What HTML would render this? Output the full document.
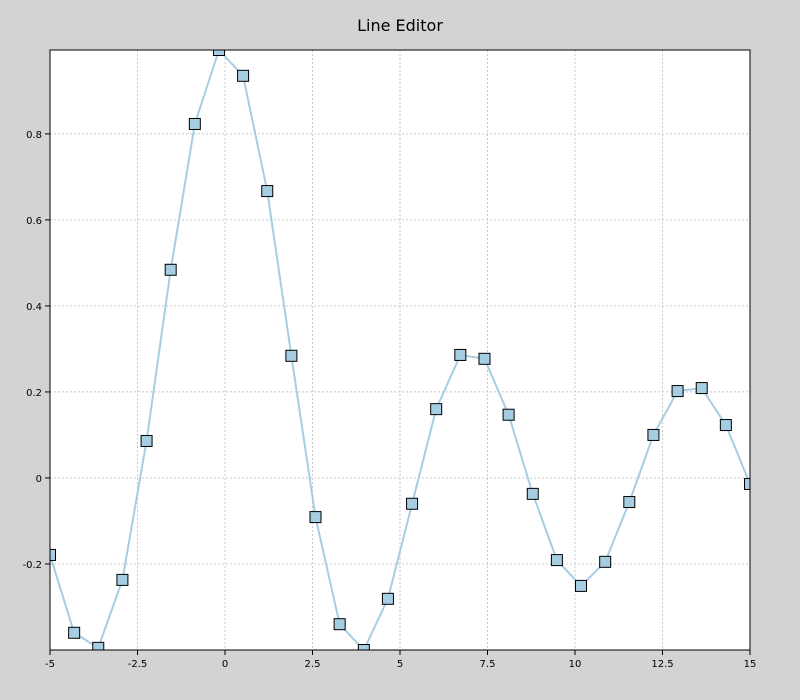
<!DOCTYPE html>
<html><head><meta charset="utf-8"><style>
body{margin:0;background:#d3d3d3;}
svg{display:block;font-family:"DejaVu Sans","Liberation Sans",sans-serif;}
</style></head><body>
<svg id="chart" width="800" height="700">
<rect x="0" y="0" width="800" height="700" fill="#d3d3d3"/>
<text x="400" y="31" text-anchor="middle" font-size="16" fill="#000">Line Editor</text>
<defs><clipPath id="clip"><rect x="50" y="50" width="700" height="600"/></clipPath></defs>
<rect x="50" y="50" width="700" height="600" fill="#fff"/>
<g id="grid"></g>
<g id="series" clip-path="url(#clip)"></g>
<rect x="50" y="50" width="700" height="600" fill="none" stroke="#000" stroke-width="1"/>
<g id="axes"></g>
</svg>
<script>
const xValues=[-5,-4.31,-3.621,-2.931,-2.241,-1.552,-0.862,-0.172,0.517,1.207,1.897,2.586,3.276,3.966,4.655,5.345,6.034,6.724,7.414,8.103,8.793,9.483,10.172,10.862,11.552,12.241,12.931,13.621,14.31,15];
const yValues=[-0.179,-0.360,-0.395,-0.237,0.086,0.484,0.823,0.995,0.935,0.667,0.284,-0.091,-0.340,-0.400,-0.281,-0.060,0.160,0.286,0.277,0.147,-0.037,-0.191,-0.251,-0.195,-0.056,0.100,0.202,0.209,0.123,-0.014];
const xTicks=[-5,-2.5,0,2.5,5,7.5,10,12.5,15];
const xTickLabels=["-5","-2.5","0","2.5","5","7.5","10","12.5","15"];
const yTicks=[-0.2,0,0.2,0.4,0.6,0.8];
const yTickLabels=["-0.2","0","0.2","0.4","0.6","0.8"];
const xDomain=[-5,15];
const yDomain=[-0.4,0.995];
const L=50,R=750,T=50,B=650;
const sx=v=>L+(v-xDomain[0])/(xDomain[1]-xDomain[0])*(R-L);
const sy=v=>B-(v-yDomain[0])/(yDomain[1]-yDomain[0])*(B-T);
const NS="http://www.w3.org/2000/svg";
function mk(tag,attrs,parent){const e=document.createElementNS(NS,tag);for(const k in attrs)e.setAttribute(k,attrs[k]);parent.appendChild(e);return e;}
const grid=document.getElementById('grid'),axes=document.getElementById('axes'),series=document.getElementById('series');
xTicks.forEach((t,i)=>{const x=sx(t);
 if(x>L+1&&x<R-1){const g=mk('line',{x1:x,x2:x,y1:T,y2:B,stroke:'#c8c8c8','stroke-dasharray':'2,2'},grid);
 
 }
 const tk=mk('line',{x1:x,x2:x,y1:B,y2:B+5,stroke:'#000'},axes);
 
 
 const lb=mk('text',{x:x,y:B+17,'text-anchor':'middle','font-size':10,fill:'#000'},axes);lb.textContent=xTickLabels[i];
 
 
});
yTicks.forEach((t,i)=>{const y=sy(t);
 const g=mk('line',{x1:L,x2:R,y1:y,y2:y,stroke:'#c8c8c8','stroke-dasharray':'2,2'},grid);
 
 
 const tk=mk('line',{x1:L-5,x2:L,y1:y,y2:y,stroke:'#000'},axes);
 
 
 const lb=mk('text',{x:L-8,y:y+4,'text-anchor':'end','font-size':10,fill:'#000'},axes);lb.textContent=yTickLabels[i];
 
 
});
const pts=xValues.map((x,i)=>sx(x)+','+sy(yValues[i])).join(' ');
const line=mk('polyline',{points:pts,fill:'none',stroke:'#a6cee3','stroke-width':2},series);


xValues.forEach((x,i)=>{
 const m=mk('rect',{x:sx(x)-5.5,y:sy(yValues[i])-5.5,width:11,height:11,fill:'#a6cee3',stroke:'#000','stroke-width':1},series);
 
 
});
</script>
</body></html>
